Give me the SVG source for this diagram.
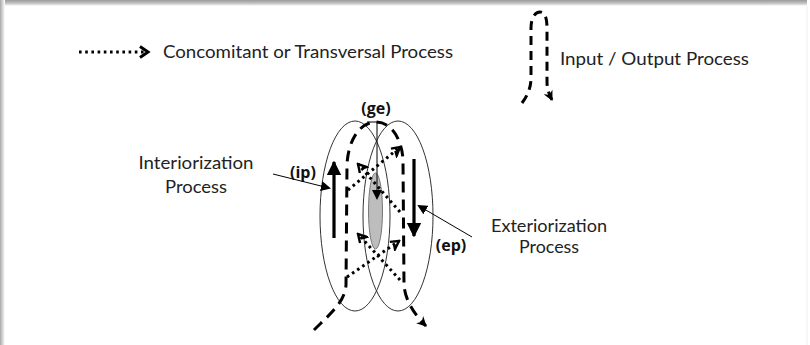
<svg xmlns="http://www.w3.org/2000/svg" width="810" height="345" viewBox="0 0 810 345">
<defs>
<linearGradient id="gTop" x1="0" y1="0" x2="0" y2="1"><stop offset="0" stop-color="#9a9a9a"/><stop offset="0.6" stop-color="#c8c8c8"/><stop offset="1" stop-color="#ffffff"/></linearGradient>
<linearGradient id="gLeft" x1="0" y1="0" x2="1" y2="0"><stop offset="0" stop-color="#a8a8a8"/><stop offset="1" stop-color="#ffffff"/></linearGradient>
<marker id="solid" viewBox="0 0 10 10" refX="8" refY="5" markerWidth="10" markerHeight="10" markerUnits="userSpaceOnUse" orient="auto"><path d="M0,0 L10,5 L0,10 z" fill="#000"/></marker>
<marker id="thick" viewBox="0 0 10 10" refX="9" refY="5" markerWidth="4.5" markerHeight="5" orient="auto"><path d="M0,0 L10,5 L0,10 z" fill="#000"/></marker>
<marker id="chev" viewBox="0 0 12 12" refX="10" refY="6" markerWidth="12" markerHeight="12" markerUnits="userSpaceOnUse" orient="auto"><path d="M2,1.5 L10,6 L2,10.5 L4,6" fill="none" stroke="#000" stroke-width="2.4" stroke-linejoin="miter"/></marker>
<marker id="dashHead" viewBox="0 0 10 10" refX="9" refY="5" markerWidth="10" markerHeight="10" markerUnits="userSpaceOnUse" orient="auto"><path d="M0,0 L10,5 L0,10 L3,5 z" fill="#000"/></marker>
<style>
.t{font-family:"Lato","Open Sans","Liberation Sans",sans-serif;font-size:17px;fill:#222;}
.b{font-family:"Open Sans","Noto Sans","Liberation Sans",sans-serif;font-size:16px;font-weight:bold;fill:#111;}
.dash{fill:none;stroke:#000;stroke-width:3;stroke-dasharray:11 7;}
.dot{fill:none;stroke:#000;stroke-width:3;stroke-dasharray:2.6 3.6;}
.ell{fill:none;stroke:#333;stroke-width:1;}
.thin{fill:none;stroke:#000;stroke-width:1;}
.arr{fill:none;stroke:#000;stroke-width:3.2;}
</style>
</defs>
<rect x="0" y="0" width="810" height="345" fill="#ffffff"/>
<rect x="0" y="0" width="807" height="6" fill="url(#gTop)"/>
<rect x="0" y="0" width="5" height="345" fill="url(#gLeft)"/>
<line x1="807" y1="6" x2="807" y2="345" stroke="#eeeeee" stroke-width="1"/>

<g id="legend-concomitant">
<line class="dot" x1="79" y1="52" x2="146" y2="52"/>
<path d="M140,46.5 L148,52 L140,57.5" fill="none" stroke="#000" stroke-width="3"/>
<text class="t" x="163" y="58" textLength="290" lengthAdjust="spacingAndGlyphs">Concomitant or Transversal Process</text>
</g>

<g id="legend-io">
<path class="dash" style="stroke-dasharray:9 6" d="M522,103 C528,95 531,87 531,78 L531,28 C531,18 535,12 540,12 C545,12 547,18 547,28 L547,82 C547,90 550,96 552,100" marker-end="url(#dashHead)"/>
<text class="t" x="560" y="65" textLength="189" lengthAdjust="spacingAndGlyphs">Input / Output  Process</text>
</g>

<g id="ellipse-left"><ellipse class="ell" cx="355" cy="216" rx="35" ry="95"/></g>
<g id="ellipse-right"><ellipse class="ell" cx="398" cy="216" rx="35" ry="95"/></g>
<g id="core"><ellipse cx="375.5" cy="211" rx="7" ry="38" fill="#bdbdbd" stroke="#777" stroke-width="1"/></g>

<g id="labels">
<text class="b" x="376" y="114" text-anchor="middle">(ge)</text>
<text class="b" x="303" y="178" text-anchor="middle">(ip)</text>
<text class="b" x="451" y="251" text-anchor="middle">(ep)</text>
<text class="t" x="196" y="169" text-anchor="middle" textLength="115" lengthAdjust="spacingAndGlyphs">Interiorization</text>
<text class="t" x="196" y="193" text-anchor="middle" textLength="62" lengthAdjust="spacingAndGlyphs">Process</text>
<text class="t" x="549" y="232" text-anchor="middle" textLength="116" lengthAdjust="spacingAndGlyphs">Exteriorization</text>
<text class="t" x="549" y="253" text-anchor="middle" textLength="60" lengthAdjust="spacingAndGlyphs">Process</text>
</g>

<g id="connectors">
<path class="dash" d="M314,330 C330,314 345,302 346,285 L347,165 C348,140 360,122 376,122 C392,122 402,140 403,160 L404,285 C405,300 414,314 426,326" marker-end="url(#dashHead)"/>
<path class="thin" d="M367,122 L377,122 L377,198" marker-end="url(#solid)"/>
<line class="arr" x1="334" y1="238" x2="334" y2="162" marker-end="url(#thick)"/>
<line class="arr" x1="414" y1="159" x2="414" y2="236" marker-end="url(#thick)"/>
<line class="thin" x1="273" y1="174" x2="329" y2="188" marker-end="url(#solid)"/>
<line class="thin" x1="472" y1="237" x2="419" y2="206" marker-end="url(#solid)"/>
<line class="dot" x1="400" y1="212" x2="358" y2="164" marker-end="url(#chev)"/>
<line class="dot" x1="348" y1="190" x2="400" y2="147" marker-end="url(#chev)"/>
<line class="dot" x1="400" y1="280" x2="358" y2="234" marker-end="url(#chev)"/>
<line class="dot" x1="347" y1="277" x2="399" y2="241" marker-end="url(#chev)"/>
</g>
</svg>
